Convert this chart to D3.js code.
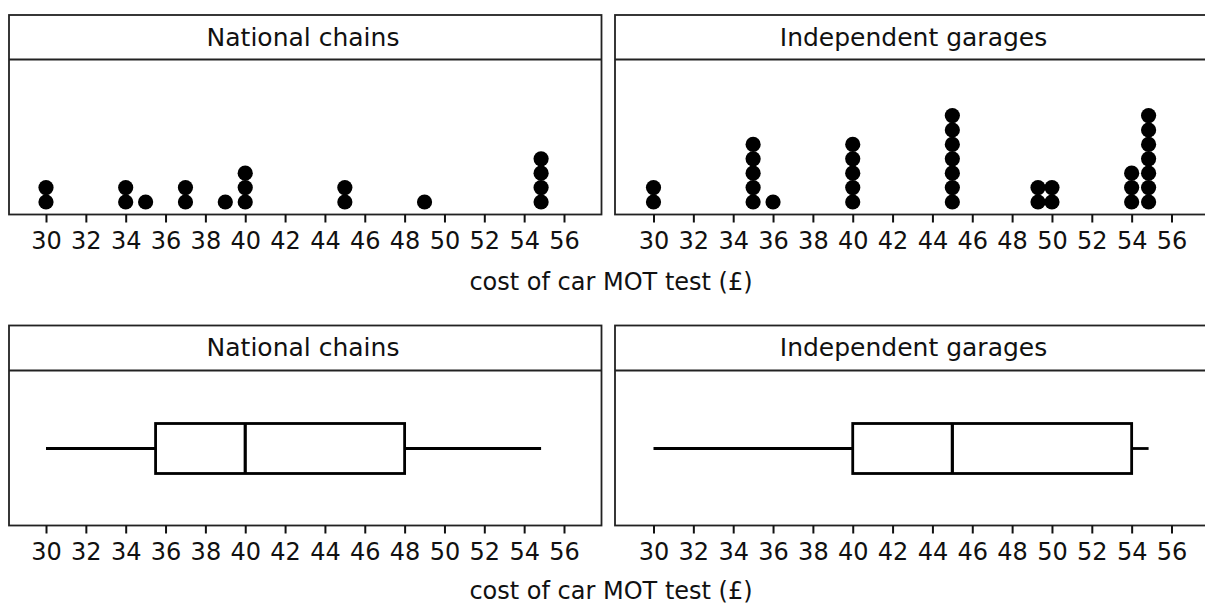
<!DOCTYPE html>
<html>
<head>
<meta charset="utf-8">
<script src="https://cdn.jsdelivr.net/npm/d3@7/dist/d3.min.js"></script>
<style>
  html, body { margin: 0; padding: 0; background: #fff; }
  svg { display: block; font-family: "DejaVu Sans", Verdana, sans-serif; }
</style>
</head>
<body>
<svg id="chart" width="1205" height="605"></svg>
<script>
// ---- data ----
const panelTitles = ["National chains", "Independent garages"];
const axisTitle = "cost of car MOT test (£)";
const tickValues = [30, 32, 34, 36, 38, 40, 42, 44, 46, 48, 50, 52, 54, 56];
const nationalValues = [30, 30, 34, 34, 35, 37, 37, 39, 40, 40, 40, 45, 45, 49, 54.85, 54.85, 54.85, 54.85];
const independentValues = [30, 30, 35, 35, 35, 35, 35, 36, 40, 40, 40, 40, 40,
  45, 45, 45, 45, 45, 45, 45, 49.3, 49.3, 50, 50, 54, 54, 54,
  54.85, 54.85, 54.85, 54.85, 54.85, 54.85, 54.85];
// box plot five-number summaries: min, Q1, median, Q3, max
const nationalBox = [30, 35.5, 40, 48, 54.85];
const independentBox = [30, 40, 45, 54, 54.85];

// ---- layout ----
const svg = d3.select("#chart");
const panelsX = [
  { x0: 9, x1: 601.5, range: [46, 564], titleX: 303 },
  { x0: 615, x1: 1212, range: [653.5, 1171.5], titleX: 913.5 }
];
const rows = [
  { top: 15, head: 59.5, bottom: 214.5, titleY: 45.5, axisTitleY: 290 },
  { top: 325.5, head: 370.5, bottom: 525.5, titleY: 356, axisTitleY: 599 }
];
const dotR = 7.6, dotStep = 14.4;

function drawPanel(row, p, title) {
  const g = svg.append("g");
  g.append("rect")
    .attr("x", p.x0).attr("y", row.top)
    .attr("width", p.x1 - p.x0).attr("height", row.bottom - row.top)
    .attr("fill", "none").attr("stroke", "#222").attr("stroke-width", 1.8);
  g.append("line")
    .attr("x1", p.x0).attr("x2", p.x1)
    .attr("y1", row.head).attr("y2", row.head)
    .attr("stroke", "#222").attr("stroke-width", 1.8);
  g.append("text")
    .attr("x", p.titleX).attr("y", row.titleY)
    .attr("text-anchor", "middle")
    .attr("font-size", 25).attr("fill", "#111")
    .text(title);
  const x = d3.scaleLinear().domain([30, 56]).range(p.range);
  const axis = d3.axisBottom(x).tickValues(tickValues).tickSize(8).tickPadding(9)
    .tickFormat(d3.format("d"));
  const ag = g.append("g").attr("transform", `translate(0,${row.bottom})`).call(axis);
  ag.select(".domain").remove();
  ag.selectAll(".tick line").attr("stroke", "#111").attr("stroke-width", 2);
  ag.selectAll(".tick text").attr("font-size", 24).attr("fill", "#111")
    .attr("font-family", "DejaVu Sans, Verdana, sans-serif");
  return { g, x };
}

function drawDots(panel, values, row) {
  const counts = new Map();
  const pts = values.map(v => {
    const k = counts.get(v) || 0;
    counts.set(v, k + 1);
    return { v, k };
  });
  const yBase = row.bottom - 12.5;
  panel.g.selectAll("circle.dot").data(pts).join("circle")
    .attr("class", "dot")
    .attr("cx", d => panel.x(d.v))
    .attr("cy", d => yBase - d.k * dotStep)
    .attr("r", dotR)
    .attr("fill", "#000");
}

function drawBox(panel, s, row) {
  const [mn, q1, med, q3, mx] = s;
  const x = panel.x;
  const yTop = 423.5, yBot = 473.5, yMid = 448.5;
  const g = panel.g.append("g").attr("stroke", "#000").attr("stroke-width", 2.8).attr("fill", "none");
  g.append("line").attr("x1", x(mn)).attr("x2", x(q1)).attr("y1", yMid).attr("y2", yMid);
  g.append("line").attr("x1", x(q3)).attr("x2", x(mx)).attr("y1", yMid).attr("y2", yMid);
  g.append("rect").attr("x", x(q1)).attr("y", yTop)
    .attr("width", x(q3) - x(q1)).attr("height", yBot - yTop).attr("fill", "#fff");
  g.append("line").attr("x1", x(med)).attr("x2", x(med)).attr("y1", yTop).attr("y2", yBot)
    .attr("stroke-width", 3.2);
}

// top row: dot plots
const tl = drawPanel(rows[0], panelsX[0], panelTitles[0]);
const tr = drawPanel(rows[0], panelsX[1], panelTitles[1]);
drawDots(tl, nationalValues, rows[0]);
drawDots(tr, independentValues, rows[0]);

// bottom row: box plots
const bl = drawPanel(rows[1], panelsX[0], panelTitles[0]);
const br = drawPanel(rows[1], panelsX[1], panelTitles[1]);
drawBox(bl, nationalBox, rows[1]);
drawBox(br, independentBox, rows[1]);

// axis titles
rows.forEach(r => {
  svg.append("text")
    .attr("x", 611).attr("y", r.axisTitleY)
    .attr("text-anchor", "middle")
    .attr("font-size", 24).attr("fill", "#111")
    .text(axisTitle);
});
</script>
</body>
</html>
